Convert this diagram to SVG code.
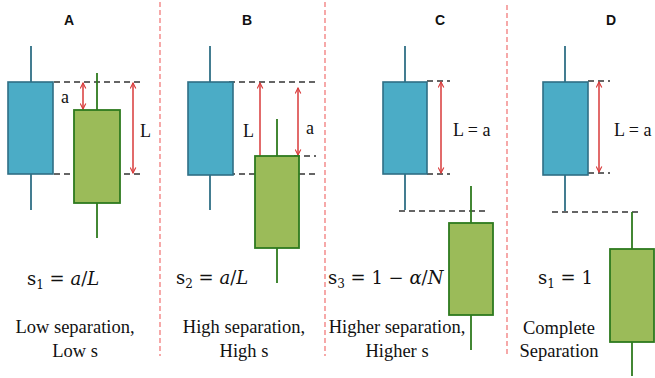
<svg xmlns="http://www.w3.org/2000/svg" width="655" height="378" viewBox="0 0 655 378">
<defs>
<style>
.bg{fill:#ffffff}
.sep{stroke:#F07070;stroke-width:1.2;stroke-dasharray:5 3;fill:none}
.dash{stroke:#333333;stroke-width:1.6;stroke-dasharray:6 4;fill:none}
.bbox{fill:#4BACC6;stroke:#2F6F85;stroke-width:1.6}
.bwick{stroke:#2F6F85;stroke-width:1.8}
.gbox{fill:#9BBB59;stroke:#2E7A1E;stroke-width:1.8}
.gwick{stroke:#2E7A1E;stroke-width:1.8}
.arr{stroke:#D83A3A;stroke-width:1.5;fill:none;marker-start:url(#ah);marker-end:url(#ah)}
.title{font-family:"Liberation Sans",Arial,sans-serif;font-weight:bold;font-size:14px;fill:#111;text-anchor:middle}
.lab{font-family:"Liberation Serif","DejaVu Serif",serif;font-size:18px;fill:#111}
.cap{font-family:"Liberation Serif","DejaVu Serif",serif;font-size:18.5px;fill:#111;text-anchor:middle}
.f{font-family:"DejaVu Serif","Liberation Serif",serif;font-size:18px;fill:#111}
.it{font-style:italic}
</style>
<marker id="ah" viewBox="0 0 10 10" refX="9" refY="5" markerWidth="7" markerHeight="7" orient="auto-start-reverse" markerUnits="userSpaceOnUse">
<path d="M1,1 L9,5 L1,9" fill="none" stroke="#D83A3A" stroke-width="1.6"/>
</marker>
</defs>
<rect class="bg" width="655" height="378"/>

<g id="separators">
<line class="sep" x1="160" y1="2" x2="160" y2="356"/>
<line class="sep" x1="325" y1="2" x2="325" y2="356"/>
<line class="sep" x1="507" y1="5" x2="507" y2="356"/>
</g>

<g id="connectors">
<line class="dash" x1="54" y1="82" x2="143" y2="82"/>
<line class="dash" x1="54" y1="174" x2="143" y2="174"/>
<line class="arr" x1="83" y1="83" x2="83" y2="109"/>
<line class="arr" x1="133" y1="83" x2="133" y2="173"/>
<line class="dash" x1="229" y1="82" x2="316" y2="82"/>
<line class="dash" x1="229" y1="174" x2="317" y2="174"/>
<line class="dash" x1="294" y1="156" x2="316" y2="156"/>
<line class="arr" x1="260" y1="83" x2="260" y2="173"/>
<line class="arr" x1="298" y1="88" x2="298" y2="155"/>
<line class="dash" x1="427" y1="81" x2="450" y2="81"/>
<line class="dash" x1="427" y1="174" x2="450" y2="174"/>
<line class="arr" x1="441" y1="82" x2="441" y2="173"/>
<line class="dash" x1="399" y1="211" x2="487" y2="211"/>
<line class="dash" x1="588" y1="81" x2="610" y2="81"/>
<line class="dash" x1="588" y1="173" x2="610" y2="173"/>
<line class="arr" x1="599" y1="82" x2="599" y2="172"/>
<line class="dash" x1="552" y1="212" x2="642" y2="212"/>
</g>

<g id="panelA">
<text class="title" x="69" y="25">A</text>
<line class="bwick" x1="31" y1="46" x2="31" y2="210"/>
<rect class="bbox" x="8" y="82" width="45" height="92"/>
<line class="gwick" x1="97" y1="73" x2="97" y2="238"/>
<rect class="gbox" x="74" y="110" width="46" height="93"/>
<text class="lab" x="61" y="103">a</text>
<text class="lab" x="140" y="137">L</text>
<text class="f" x="27" y="285">s<tspan font-size="12" dy="4">1</tspan><tspan dy="-4"> = </tspan><tspan class="it">a</tspan>/<tspan class="it">L</tspan></text>
<text class="cap" x="75" y="333">Low separation,</text>
<text class="cap" x="75" y="357">Low s</text>
</g>

<g id="panelB">
<text class="title" x="247" y="25">B</text>
<line class="bwick" x1="210" y1="46" x2="210" y2="210"/>
<rect class="bbox" x="188" y="82" width="45" height="93"/>
<line class="gwick" x1="277" y1="119" x2="277" y2="283"/>
<rect class="gbox" x="255" y="156" width="44" height="92"/>
<text class="lab" x="243" y="137">L</text>
<text class="lab" x="306" y="134">a</text>
<text class="f" x="176" y="284">s<tspan font-size="12" dy="4">2</tspan><tspan dy="-4"> = </tspan><tspan class="it">a</tspan>/<tspan class="it">L</tspan></text>
<text class="cap" x="244" y="333">High separation,</text>
<text class="cap" x="244" y="357">High s</text>
</g>

<g id="panelC">
<text class="title" x="440" y="25">C</text>
<line class="bwick" x1="405" y1="46" x2="405" y2="210"/>
<rect class="bbox" x="383" y="82" width="44" height="92"/>
<line class="gwick" x1="471" y1="186" x2="471" y2="350"/>
<rect class="gbox" x="449" y="223" width="44" height="92"/>
<text class="lab" x="453" y="136">L = a</text>
<text class="f" x="328" y="284">s<tspan font-size="12" dy="4">3</tspan><tspan dy="-4"> = 1 − </tspan><tspan class="it">α</tspan>/<tspan class="it">N</tspan></text>
<text class="cap" x="397" y="333">Higher separation,</text>
<text class="cap" x="397" y="357">Higher s</text>
</g>

<g id="panelD">
<text class="title" x="611" y="25">D</text>
<line class="bwick" x1="565" y1="46" x2="565" y2="211"/>
<rect class="bbox" x="543" y="82" width="45" height="93"/>
<line class="gwick" x1="632" y1="212" x2="632" y2="376"/>
<rect class="gbox" x="610" y="249" width="44" height="93"/>
<text class="lab" x="614" y="136">L = a</text>
<text class="f" x="538" y="284">s<tspan font-size="12" dy="4">1</tspan><tspan dy="-4"> = 1</tspan></text>
<text class="cap" x="559" y="334">Complete</text>
<text class="cap" x="559" y="357">Separation</text>
</g>
</svg>
